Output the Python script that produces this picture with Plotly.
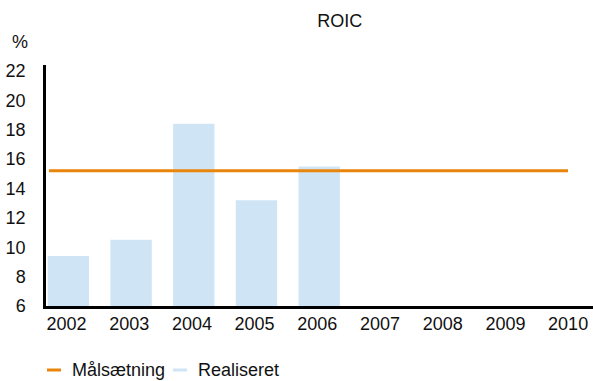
import plotly.graph_objects as go

# ROIC: realised values per year and the target level
years = ["2002", "2003", "2004", "2005", "2006", "2007", "2008", "2009", "2010"]
realised_years = ["2002", "2003", "2004", "2005", "2006"]
realised = [9.4, 10.5, 18.4, 13.2, 15.5]
target_years = [2002, 2003, 2004, 2005, 2006, 2007, 2008, 2009, 2010]
target = [15.2, 15.2, 15.2, 15.2, 15.2, 15.2, 15.2, 15.2, 15.2]
y_ticks = [6, 8, 10, 12, 14, 16, 18, 20, 22]

ORANGE = "#E8850A"
LIGHT_BLUE = "#CFE5F5"
FONT = "Liberation Sans, Arial, Helvetica, sans-serif"
TEXT = "#111111"
FS = 18

W, H = 593, 381
ML, MR, MT, MB = 46, 0, 65, 75

fig = go.Figure()

fig.add_trace(go.Bar(
    x=realised_years, y=realised, name="Realiseret",
    marker=dict(color=LIGHT_BLUE, line=dict(width=0)),
    width=0.66, offset=-0.3, showlegend=False, xaxis="x", yaxis="y",
))

fig.add_trace(go.Scatter(
    x=target_years, y=target, name="Målsætning", mode="lines",
    line=dict(color=ORANGE, width=3), showlegend=False,
    xaxis="x2", yaxis="y",
))

fig.update_layout(
    width=W, height=H,
    margin=dict(l=ML, r=MR, t=MT, b=MB, pad=0),
    paper_bgcolor="white", plot_bgcolor="white",
    font=dict(family=FONT, size=FS, color=TEXT),
    title=dict(text="ROIC", x=(318.5) / W, xref="paper", xanchor="center",
               y=1 - 21 / H, yref="container", yanchor="middle",
               font=dict(size=FS, color=TEXT, family=FONT)),
    xaxis=dict(
        type="category", categoryorder="array", categoryarray=years,
        tickvals=years, ticktext=years,
        range=[-0.327, 8.397], showgrid=False, zeroline=False,
        showline=True, linecolor="black", linewidth=2.5,
        ticks="", ticklabelstandoff=0,
        tickfont=dict(size=FS, color=TEXT, family=FONT),
        fixedrange=True,
    ),
    xaxis2=dict(
        overlaying="x", type="linear", range=[2001.954, 2010.385],
        visible=False, showgrid=False, zeroline=False, fixedrange=True,
    ),
    yaxis=dict(
        range=[6, 22.4], tickvals=y_ticks, ticktext=[str(v) for v in y_ticks],
        showgrid=False, zeroline=False,
        showline=True, linecolor="black", linewidth=2.5,
        ticks="", ticklabelstandoff=14,
        tickfont=dict(size=FS, color=TEXT, family=FONT),
        fixedrange=True,
    ),
    showlegend=False,
)

# Unit label above the y axis
fig.add_annotation(text="%", xref="paper", yref="paper",
                   x=(19.5 - ML) / (W - ML - MR), y=1 + (MT - 42.5) / (H - MT - MB),
                   xanchor="center", yanchor="middle", showarrow=False,
                   font=dict(size=FS, color=TEXT, family=FONT))

# Legend drawn below the plot: short dashes followed by labels
plot_w = W - ML - MR
plot_h = H - MT - MB
def px_x(px):
    return (px - ML) / plot_w
def px_y(py):
    return (H - MB - py) / plot_h

legend_y = 370
legend_items = [("Målsætning", ORANGE, 47, 61, 70), ("Realiseret", LIGHT_BLUE, 173, 187, 196)]
for label, color, x0, x1, tx in legend_items:
    fig.add_shape(type="line", xref="paper", yref="paper",
                  x0=px_x(x0), x1=px_x(x1), y0=px_y(legend_y), y1=px_y(legend_y),
                  line=dict(color=color, width=3))
    fig.add_annotation(text=label, xref="paper", yref="paper",
                       x=px_x(tx), y=px_y(legend_y), xanchor="left", yanchor="middle",
                       showarrow=False, font=dict(size=FS, color=TEXT, family=FONT))

fig.write_html("out.html")
